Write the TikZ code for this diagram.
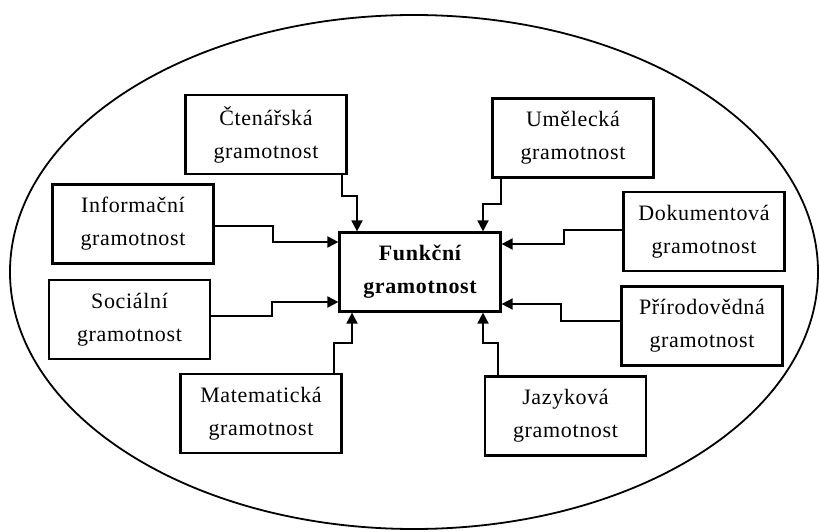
\documentclass[tikz,border=0pt]{standalone}
\usepackage{fontspec}
\setmainfont{Liberation Serif}[LetterSpace=3]
\usetikzlibrary{arrows.meta}
\begin{document}
\begin{tikzpicture}[x=1pt,y=-1pt,
  box/.style={draw,line width=2.2pt,rectangle,minimum width=161pt,minimum height=79pt,
    align=center,inner sep=0pt,font=\fontsize{22}{33}\selectfont},
  conn/.style={line width=1.8pt,-{Triangle[length=11pt,width=11pt]}}]
\useasboundingbox (0,0) rectangle (819,532);
\draw[line width=1.8pt] (414,272) ellipse [x radius=404, y radius=257];
\node[box] (ct) at (266,134.5) {Čtenářská\\gramotnost};
\node[box] (um) at (573,138) {Umělecká\\gramotnost};
\node[box] (inf) at (133,224) {Informační\\gramotnost};
\node[box] (soc) at (129.5,319.5) {Sociální\\gramotnost};
\node[box] (dok) at (704,231.5) {Dokumentová\\gramotnost};
\node[box] (pri) at (702,326) {Přírodovědná\\gramotnost};
\node[box] (mat) at (261,413.5) {Matematická\\gramotnost};
\node[box] (jaz) at (565.5,416) {Jazyková\\gramotnost};
\node[box,font=\fontsize{22}{33}\selectfont\bfseries] (fun) at (420,272) {Funkční\\gramotnost};
% bend points
\coordinate (a1) at (342,196); \coordinate (a2) at (357,196);
\coordinate (b1) at (501,204); \coordinate (b2) at (483,204);
\coordinate (c1) at (273,226); \coordinate (c2) at (273,242);
\coordinate (d1) at (272,316); \coordinate (d2) at (272,302);
\coordinate (e1) at (564,230); \coordinate (e2) at (564,244);
\coordinate (f1) at (561,321); \coordinate (f2) at (561,304);
\coordinate (g1) at (334,343); \coordinate (g2) at (352,343);
\coordinate (h1) at (498,343); \coordinate (h2) at (483,343);
\draw[conn] (ct.south -| a1) -- (a1) -- (a2) -- (fun.north -| a2);
\draw[conn] (um.south -| b1) -- (b1) -- (b2) -- (fun.north -| b2);
\draw[conn] (inf.east |- c1) -- (c1) -- (c2) -- (fun.west |- c2);
\draw[conn] (soc.east |- d1) -- (d1) -- (d2) -- (fun.west |- d2);
\draw[conn] (dok.west |- e1) -- (e1) -- (e2) -- (fun.east |- e2);
\draw[conn] (pri.west |- f1) -- (f1) -- (f2) -- (fun.east |- f2);
\draw[conn] (mat.north -| g1) -- (g1) -- (g2) -- (fun.south -| g2);
\draw[conn] (jaz.north -| h1) -- (h1) -- (h2) -- (fun.south -| h2);
\end{tikzpicture}
\end{document}
